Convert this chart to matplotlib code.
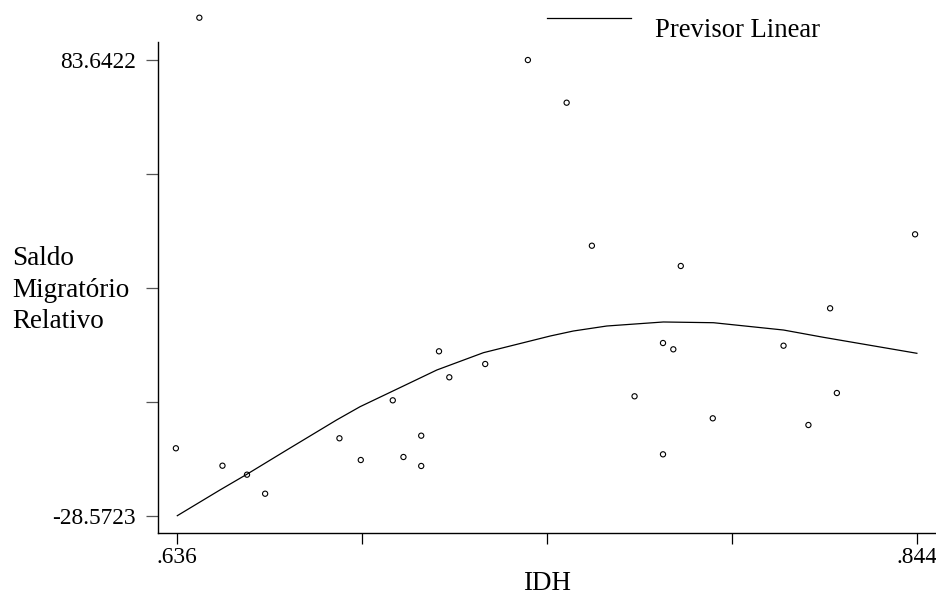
import matplotlib
matplotlib.use("Agg")
import matplotlib.pyplot as plt
from matplotlib.lines import Line2D
import numpy as np

plt.rcParams['font.family'] = ['Liberation Serif', 'DejaVu Serif']

# Scatter data: IDH vs Saldo Migratório Relativo
idh = [0.6422, 0.7346, 0.7455, 0.7526, 0.7776, 0.8435,
       0.6356, 0.6487, 0.6556, 0.6607, 0.6816, 0.6876, 0.6966, 0.6996,
       0.7046, 0.7046, 0.7096, 0.7125, 0.7226,
       0.8196, 0.7726, 0.7755, 0.8065, 0.7646, 0.8215, 0.7866, 0.8135, 0.7726]
saldo = [94.06, 83.64, 73.13, 37.91, 32.92, 40.72,
         -11.97, -16.26, -18.47, -23.16, -9.51, -14.86, -0.16, -14.12,
         -8.87, -16.33, 11.91, 5.51, 8.78,
         22.50, 13.95, 12.40, 13.29, 0.83, 1.64, -4.59, -6.24, -13.46]

# Fitted curve ("Previsor Linear")
fit_x = [0.636, 0.6480, 0.6557, 0.6668, 0.6808, 0.6874, 0.6996, 0.7090, 0.7221,
         0.7409, 0.7474, 0.7568, 0.7727, 0.7868, 0.8065, 0.8177, 0.844]
fit_y = [-28.57, -22.24, -18.30, -12.39, -5.00, -1.73, 3.37, 7.31, 11.57,
         15.68, 16.91, 18.14, 19.13, 18.95, 17.15, 15.36, 11.42]

y_ticks = list(np.linspace(-28.5723, 83.6422, 5))
y_labels = ['-28.5723', '', '', '', '83.6422']
x_ticks = list(np.linspace(0.636, 0.844, 5))
x_labels = ['.636', '', '', '', '.844']

W, H = 936, 600
fig = plt.figure(figsize=(W / 100, H / 100), dpi=100)
ax = fig.add_axes([158 / W, (H - 532.7) / H, (935 - 158) / W, 532.7 / H])

ax.plot(fit_x, fit_y, color='black', lw=0.9)
ax.scatter(idh, saldo, s=14, facecolors='none', edgecolors='black', linewidths=0.8)

ax.set_xlim(0.63057, 0.8491)
ax.set_ylim(-32.76, 98.42)

for s in ['top', 'right']:
    ax.spines[s].set_visible(False)
ax.spines['left'].set_bounds(-32.76, 88.07)
ax.spines['left'].set_linewidth(1.0)
ax.spines['bottom'].set_linewidth(1.0)

ax.set_yticks(y_ticks)
ax.set_yticklabels(y_labels)
ax.set_xticks(x_ticks)
ax.set_xticklabels(x_labels)
ax.tick_params(axis='y', length=8.5, width=0.9, pad=7.5, labelsize=16.8, color='#555555')
ax.tick_params(axis='x', length=8, width=0.9, pad=2.5, labelsize=16.8)

fig.text(547 / W, 1 - 584 / H, 'IDH', ha='center', va='center', fontsize=19.5)
fig.text(12 / W, 1 - 290 / H, 'Saldo\nMigratório\nRelativo', ha='left', va='center',
         fontsize=19.5, linespacing=1.32)

# legend
fig.add_artist(Line2D([546.7 / W, 630.7 / W], [1 - 18 / H, 1 - 18 / H],
                      color='black', lw=0.9, transform=fig.transFigure))
fig.text(655 / W, 1 - 37 / H, 'Previsor Linear', ha='left', va='baseline', fontsize=19.2)

fig.savefig('out.png', dpi=100)
